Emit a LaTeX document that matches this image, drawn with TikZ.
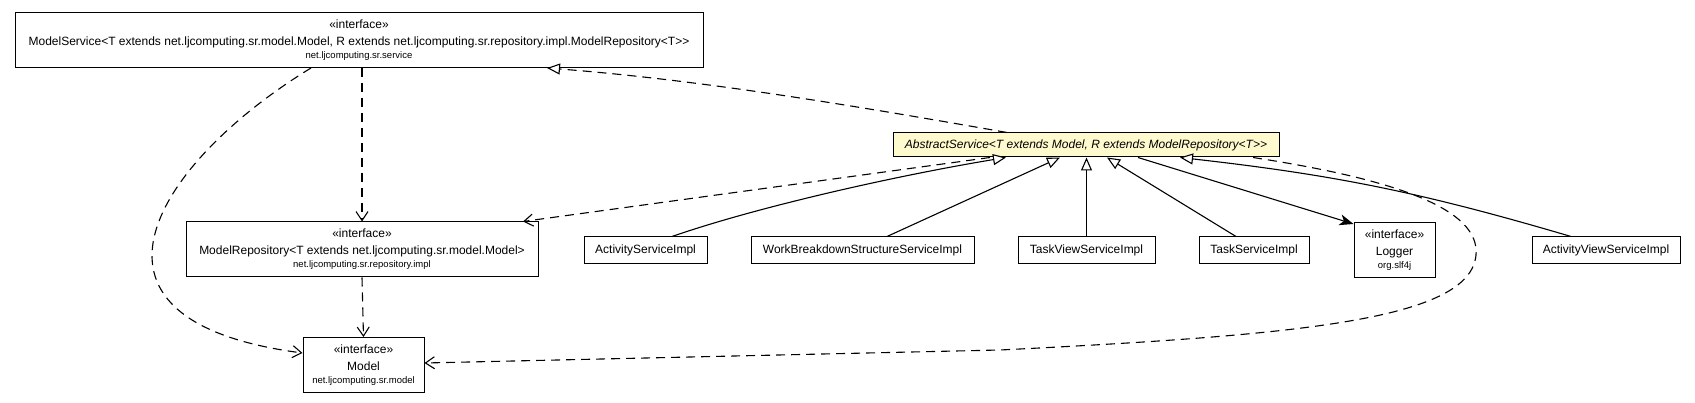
\documentclass[tikz,border=0pt]{standalone}
\usepackage{fontspec}
\setmainfont{Liberation Sans}
\usepackage{xcolor}
\usetikzlibrary{arrows.meta}

\definecolor{lemon}{HTML}{FFFACD}
\newcommand{\pkgfont}{\fontsize{9.5}{11}\selectfont}
\newcommand{\gtgt}{>\kern0pt>}

\begin{document}
\begin{tikzpicture}[
    x=1pt, y=-1pt,
    font=\fontsize{12}{17}\selectfont,
    classbox/.style={draw, line width=1pt, inner sep=0pt, align=center, minimum height=27pt},
    ifacebox/.style={classbox, minimum height=55pt},
    dep/.style={line width=1.1pt, dash pattern=on 9pt off 6pt, -{Straight Barb[length=9pt, width=12pt]}},
    gen/.style={line width=1.1pt, -{Triangle[open, length=13pt, width=11pt, fill=white]}},
    real/.style={gen, dash pattern=on 9pt off 6pt},
    nav/.style={line width=1.1pt, -{Stealth[length=14pt, width=11pt, inset=4pt]}}
  ]
    \useasboundingbox (0,0) rectangle (1695,403);

    % interfaces
    \node[ifacebox, minimum width=688pt] (modelService) at (359,40)
      {«interface»\\ModelService<T extends net.ljcomputing.sr.model.Model, R extends net.ljcomputing.sr.repository.impl.ModelRepository<T\gtgt\\[-4pt]{\pkgfont net.ljcomputing.sr.service}};
    \node[ifacebox, minimum width=352pt] (modelRepo) at (362,249.5)
      {«interface»\\ModelRepository<T extends net.ljcomputing.sr.model.Model>\\[-4pt]{\pkgfont net.ljcomputing.sr.repository.impl}};
    \node[ifacebox, minimum width=121pt] (model) at (363.5,365)
      {«interface»\\Model\\[-4pt]{\pkgfont net.ljcomputing.sr.model}};
    \node[ifacebox, minimum width=81pt] (logger) at (1394.5,250)
      {«interface»\\Logger\\[-4pt]{\pkgfont org.slf4j}};

    % classes
    \node[classbox, minimum width=386pt, minimum height=24pt, fill=lemon, font=\fontsize{12}{17}\selectfont\itshape] (abstractService) at (1086,145)
      {AbstractService<T extends Model, R extends ModelRepository<T\gtgt};
    \node[classbox, minimum width=123pt] (activityImpl) at (645.5,250.5) {ActivityServiceImpl};
    \node[classbox, minimum width=223pt] (wbsImpl) at (862.5,250.5) {WorkBreakdownStructureServiceImpl};
    \node[classbox, minimum width=137pt] (taskViewImpl) at (1086.5,250.5) {TaskViewServiceImpl};
    \node[classbox, minimum width=110pt] (taskImpl) at (1254,250.5) {TaskServiceImpl};
    \node[classbox, minimum width=148pt] (activityViewImpl) at (1606,250.5) {ActivityViewServiceImpl};

    \coordinate (loopRight) at (1476,255);
    \coordinate (loopBottom) at (1000,350);

    % dependencies
    \draw[dep] (modelService.south -| modelRepo.north) -- (modelRepo.north);
    \draw[dep] (modelRepo.south) -- (model.north);
    \draw[dep] ([xshift=-48pt]modelService.south) .. controls (160,160) and (50,320) .. ([yshift=12pt]model.west);
    \draw[dep] ([xshift=-96pt]abstractService.south) -- ([xshift=161pt]modelRepo.north);
    \draw[dep] ([xshift=167pt]abstractService.south) .. controls (1400,180) and (1480,210) .. (loopRight)
      .. controls (1470,320) and (1300,335) .. (loopBottom) -- ([yshift=2pt]model.east);

    % realization and generalizations
    \draw[real] ([xshift=-79pt]abstractService.north) .. controls (850,105) and (700,80) .. ([xshift=188pt]modelService.south);
    \draw[gen] ([xshift=26.5pt]activityImpl.north) .. controls (760,206) and (900,175) .. ([xshift=-80pt]abstractService.south);
    \draw[gen] ([xshift=24.5pt]wbsImpl.north) -- ([xshift=-26pt]abstractService.south);
    \draw[gen] (taskViewImpl.north) -- (taskViewImpl.north |- abstractService.south);
    \draw[gen] ([xshift=-18pt]taskImpl.north) -- ([xshift=21pt]abstractService.south);
    \draw[gen] ([xshift=-35pt]activityViewImpl.north) to[bend right=5] ([xshift=94pt]abstractService.south);

    % association
    \draw[nav] ([xshift=52pt]abstractService.south) -- ([yshift=-2pt]logger.north west);
\end{tikzpicture}
\end{document}
